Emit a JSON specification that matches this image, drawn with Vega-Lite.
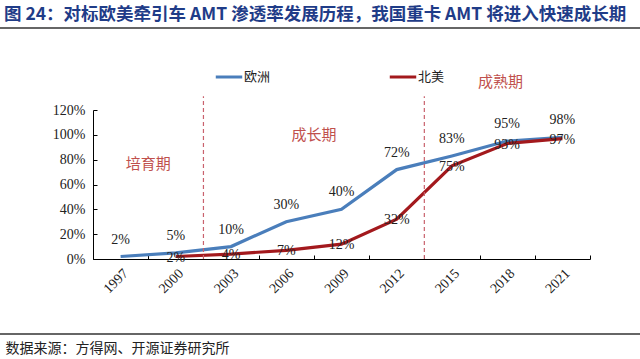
{
  "$schema": "https://vega.github.io/schema/vega-lite/v6.json",
  "width": 640,
  "height": 359,
  "autosize": {"type": "none"},
  "padding": 0,
  "background": "white",
  "config": {"view": {"stroke": null}, "font": "Liberation Serif"},
  "title": {
    "text": "图 24：对标欧美牵引车 AMT 渗透率发展历程，我国重卡 AMT 将进入快速成长期",
    "anchor": "start",
    "frame": "group",
    "orient": "top",
    "offset": -23,
    "dx": 4,
    "font": "Noto Sans CJK SC",
    "fontSize": 17.5,
    "fontWeight": "bold",
    "color": "#1f3c88"
  },
  "datasets": {
    "rates": [
      {"year": "1997", "region": "欧洲", "value": 0.02},
      {"year": "2000", "region": "欧洲", "value": 0.05},
      {"year": "2003", "region": "欧洲", "value": 0.10},
      {"year": "2006", "region": "欧洲", "value": 0.30},
      {"year": "2009", "region": "欧洲", "value": 0.40},
      {"year": "2012", "region": "欧洲", "value": 0.72},
      {"year": "2015", "region": "欧洲", "value": 0.83},
      {"year": "2018", "region": "欧洲", "value": 0.95},
      {"year": "2021", "region": "欧洲", "value": 0.98},
      {"year": "2000", "region": "北美", "value": 0.02},
      {"year": "2003", "region": "北美", "value": 0.04},
      {"year": "2006", "region": "北美", "value": 0.07},
      {"year": "2009", "region": "北美", "value": 0.12},
      {"year": "2012", "region": "北美", "value": 0.32},
      {"year": "2015", "region": "北美", "value": 0.75},
      {"year": "2018", "region": "北美", "value": 0.93},
      {"year": "2021", "region": "北美", "value": 0.97}
    ],
    "phases": [{"start": "2003"}, {"start": "2015"}]
  },
  "data": {"name": "rates"},
  "layer": [
    {
      "mark": {"type": "line", "strokeWidth": 3.2, "clip": false},
      "encoding": {
        "x": {
          "field": "year",
          "type": "ordinal",
          "scale": {"range": [93, 590], "paddingInner": 0, "paddingOuter": 0},
          "axis": {
            "offset": -100,
            "tickBand": "extent",
            "tickSize": -4,
            "tickColor": "#000",
            "domainColor": "#000",
            "labelAngle": -45,
            "labelAlign": "right",
            "labelBaseline": "top",
            "labelPadding": 11,
            "labelFont": "Liberation Serif",
            "labelFontSize": 14,
            "labelColor": "#222",
            "grid": false,
            "title": "数据来源：方得网、开源证券研究所",
            "titleX": 5,
            "titleY": 89,
            "titleAlign": "left",
            "titleBaseline": "middle",
            "titleAngle": 0,
            "titleFont": "Noto Sans CJK SC",
            "titleFontSize": 14,
            "titleFontWeight": "normal",
            "titleColor": "#222"
          }
        },
        "y": {
          "field": "value",
          "type": "quantitative",
          "scale": {"domain": [0, 1.2], "range": [259, 110], "nice": false},
          "axis": {
            "offset": -93,
            "values": [0, 0.2, 0.4, 0.6, 0.8, 1.0, 1.2],
            "format": ".0%",
            "tickSize": -4,
            "tickColor": "#000",
            "domainColor": "#000",
            "labelPadding": 12,
            "labelFont": "Liberation Serif",
            "labelFontSize": 14,
            "labelColor": "#222",
            "grid": false,
            "title": null
          }
        },
        "color": {
          "field": "region",
          "type": "nominal",
          "scale": {"domain": ["欧洲", "北美"], "range": ["#4a7ebb", "#a3191d"]},
          "legend": {
            "orient": "none",
            "legendX": 214,
            "legendY": 62,
            "direction": "horizontal",
            "title": null,
            "symbolType": "stroke",
            "symbolStrokeWidth": 3,
            "symbolSize": 700,
            "labelFont": "Noto Sans CJK SC",
            "labelFontSize": 13,
            "labelColor": "#222",
            "labelOffset": 0,
            "columnPadding": 112
          }
        }
      }
    },
    {
      "transform": [{"filter": "datum.region === '欧洲'"}],
      "mark": {"type": "text", "dy": -17, "fontSize": 14, "font": "Liberation Serif", "color": "#222", "clip": false},
      "encoding": {
        "x": {"field": "year", "type": "ordinal"},
        "y": {"field": "value", "type": "quantitative"},
        "text": {"field": "value", "type": "quantitative", "format": ".0%"}
      }
    },
    {
      "transform": [{"filter": "datum.region === '北美'"}],
      "mark": {"type": "text", "dy": 1, "fontSize": 14, "font": "Liberation Serif", "color": "#222", "clip": false},
      "encoding": {
        "x": {"field": "year", "type": "ordinal"},
        "y": {"field": "value", "type": "quantitative"},
        "text": {"field": "value", "type": "quantitative", "format": ".0%"}
      }
    },
    {
      "data": {"name": "phases"},
      "mark": {"type": "rule", "strokeDash": [4, 3], "strokeWidth": 1.2, "color": "#c9626d", "clip": false},
      "encoding": {
        "x": {"field": "start", "type": "ordinal", "bandPosition": 0},
        "y": {"datum": 0},
        "y2": {"datum": 1.31}
      }
    },
    {
      "data": {"values": [{"phase": "培育期"}]},
      "mark": {"type": "text", "font": "Noto Sans CJK SC", "fontSize": 15, "color": "#c0504d", "baseline": "middle", "clip": false},
      "encoding": {
        "x": {"datum": "2000", "type": "ordinal", "bandPosition": 0},
        "y": {"datum": 0.765},
        "text": {"field": "phase"}
      }
    },
    {
      "data": {"values": [{"phase": "成长期"}]},
      "mark": {"type": "text", "font": "Noto Sans CJK SC", "fontSize": 15, "color": "#c0504d", "baseline": "middle", "clip": false},
      "encoding": {
        "x": {"datum": "2009", "type": "ordinal", "bandPosition": 0},
        "y": {"datum": 1.0},
        "text": {"field": "phase"}
      }
    },
    {
      "data": {"values": [{"phase": "成熟期"}]},
      "mark": {"type": "text", "font": "Noto Sans CJK SC", "fontSize": 15, "color": "#c0504d", "baseline": "middle", "clip": false},
      "encoding": {
        "x": {"datum": "2018", "type": "ordinal", "bandPosition": 0.38},
        "y": {"datum": 1.426},
        "text": {"field": "phase"}
      }
    },
    {
      "data": {"values": [{"line": "title"}]},
      "mark": {"type": "rule", "color": "#333", "strokeWidth": 1.5, "clip": false},
      "encoding": {"y": {"datum": 1.86}}
    },
    {
      "data": {"values": [{"line": "source"}]},
      "mark": {"type": "rule", "color": "#333", "strokeWidth": 1.5, "clip": false},
      "encoding": {"y": {"datum": -0.604}}
    }
  ]
}
